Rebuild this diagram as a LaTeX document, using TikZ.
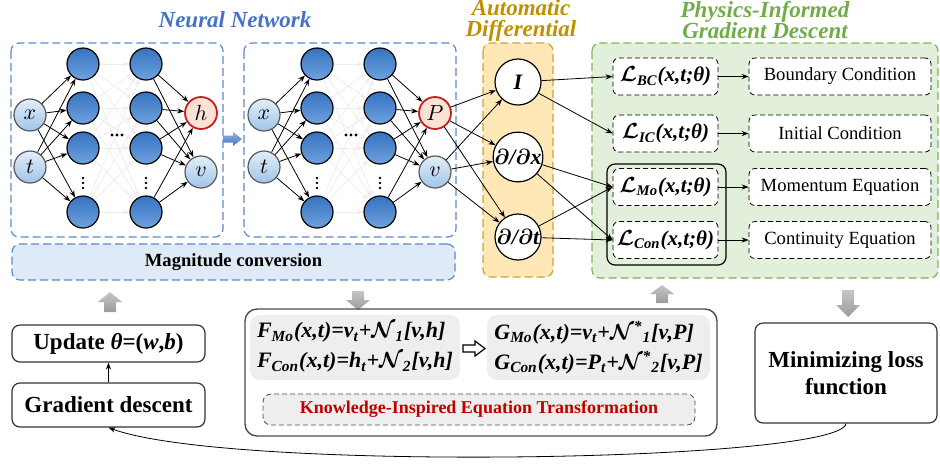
\documentclass[tikz,border=0pt]{standalone}
\usepackage{fontspec}
\setmainfont{Liberation Serif}
\usepackage{amsmath,amssymb,bm}
\usepackage{xcolor}
\usetikzlibrary{shapes,arrows,positioning,calc,arrows.meta}

\definecolor{nnblue}{RGB}{68,114,196}
\definecolor{magfill}{RGB}{222,235,247}
\definecolor{hidtop}{RGB}{55,115,192}
\definecolor{hidbot}{RGB}{110,162,222}
\definecolor{inlight}{RGB}{226,238,249}
\definecolor{inblue}{RGB}{160,196,232}
\definecolor{outred}{RGB}{200,30,30}
\definecolor{outfill}{RGB}{251,226,213}
\definecolor{adgold}{RGB}{191,144,0}
\definecolor{adfill}{RGB}{255,231,182}
\definecolor{pgreen}{RGB}{112,173,71}
\definecolor{pfill}{RGB}{226,239,218}
\definecolor{eqfill}{RGB}{238,238,238}
\definecolor{ktred}{RGB}{192,0,0}

\begin{document}
\begin{tikzpicture}[x=0.5pt, y=-0.5pt, >={Stealth[length=3.5pt,width=2.6pt]},
    font=\fontsize{9}{11}\selectfont,
    neuron/.style={circle, minimum size=16pt, inner sep=0pt, draw=black, line width=0.6pt, font=\fontsize{11}{13}\selectfont},
    hidnode/.style={neuron, top color=hidtop, bottom color=hidbot},
    innode/.style={neuron, draw=gray!70!black, top color=inlight, bottom color=inblue},
    outnode/.style={neuron, draw=outred, line width=0.9pt, fill=outfill},
    fwd/.style={->, line width=0.4pt},
    faint/.style={->, line width=0.4pt, draw=gray!14},
    boxdash/.style={dash pattern=on 4pt off 2pt, line width=0.6pt, rounded corners=4pt},
    adnode/.style={circle, draw=black, fill=white, minimum size=23pt, inner sep=0pt, line width=0.6pt, font=\fontsize{11}{13}\selectfont\bfseries\itshape},
    lossbox/.style={draw=black, dash pattern=on 2.5pt off 1.5pt, rounded corners=3pt, fill=white, minimum width=52.5pt, minimum height=18.5pt, inner sep=1pt, font=\fontsize{10.5}{12}\selectfont\bfseries\itshape},
    condbox/.style={draw=black, dash pattern=on 2.5pt off 1.5pt, rounded corners=3pt, fill=white, minimum width=91pt, minimum height=18.5pt, font=\fontsize{9.3}{11}\selectfont},
    flowbox/.style={draw=black!80, rounded corners=4pt, line width=0.6pt, fill=white, font=\fontsize{11.5}{13.5}\selectfont\bfseries},
    titletext/.style={font=\fontsize{11.5}{10.5}\selectfont\bfseries\itshape, align=center},
    grayshade/.style={top color=gray!45, bottom color=gray!78},
    eqbox/.style={fill=eqfill, rounded corners=5pt, minimum height=32.5pt, align=left, inner sep=2pt, font=\fontsize{11}{15}\selectfont\bfseries\itshape}]

    \useasboundingbox (0,0) rectangle (940,463);

    % background panels
    \draw[boxdash, draw=nnblue!85] (11,43) rectangle (223,237);
    \draw[boxdash, draw=nnblue!85] (244,43) rectangle (456,237);
    \draw[boxdash, draw=adgold!80, fill=adfill] (483,43) rectangle (553,277);
    \draw[boxdash, draw=pgreen!90, fill=pfill] (592,43) rectangle (938,278);
    \node[boxdash, draw=nnblue!85, fill=magfill, minimum width=221.5pt, minimum height=18pt, font=\fontsize{9.3}{11}\selectfont\bfseries] (mag) at (233.5,262) {Magnitude conversion};

    \node[titletext, text=nnblue] (nntitle) at (235,20) {Neural Network};
    \node[titletext, text=adgold] (adtitle) at (521,20) {Automatic\\Differential};
    \node[titletext, text=pgreen] (pititle) at (765,20) {Physics-Informed\\Gradient Descent};

    % the two networks
    \foreach \k/\off/\o in {1/0/h, 2/234/P} {
        \node[innode] (x\k) at (30+\off,115) {$x$};
        \node[innode] (t\k) at (30+\off,167) {$t$};
        \foreach \r/\y in {1/64, 2/108, 3/148, 4/212} {
            \node[hidnode] (a\k\r) at (83+\off,\y) {};
            \node[hidnode] (b\k\r) at (146+\off,\y) {};
        }
        \node[outnode] (o\k) at (201+\off,113) {$\o$};
        \node[innode] (v\k) at (201+\off,172) {$v$};
        \foreach \r in {1,...,4} {
            \draw[fwd] (x\k) -- (a\k\r);
            \draw[fwd] (t\k) -- (a\k\r);
            \draw[fwd] (b\k\r) -- (o\k);
            \draw[fwd] (b\k\r) -- (v\k);
            \foreach \s in {1,...,4}
                \draw[faint] (a\k\r) -- (b\k\s);
        }
        % dots for the hidden layers
        \foreach \d in {-5,0,5} {
            \fill (117+\off+\d,135) circle (1.7);
            \fill (83+\off,183+\d) circle (1.4);
            \fill (146+\off,183+\d) circle (1.4);
        }
    }
    \shade[top color=nnblue!55, bottom color=nnblue] (223,135.5) -- (233,135.5) -- (233,132) -- (242,139) -- (233,146) -- (233,142.5) -- (223,142.5) -- cycle;

    % automatic differential
    \node[adnode] (id) at (518,82) {I};
    \node[adnode] (ddx) at (518,157) {$\bm{\partial}$/$\bm{\partial}$x};
    \node[adnode] (ddt) at (518,237) {$\bm{\partial}$/$\bm{\partial}$t};
    \foreach \s in {o2, v2}
        \foreach \d in {id, ddx, ddt}
            \draw[fwd] (\s) -- (\d);

    % losses
    \draw[line width=0.6pt, rounded corners=4pt] (607,164) rectangle (726,265);
    \node[lossbox] (lbc) at (665.5,76.5) {$\bm{\mathcal{L}}$\textsubscript{BC}(x,t;θ)};
    \node[lossbox] (lic) at (665.5,133.5) {$\bm{\mathcal{L}}$\textsubscript{IC}(x,t;θ)};
    \node[lossbox] (lmo) at (665.5,187) {$\bm{\mathcal{L}}$\textsubscript{Mo}(x,t;θ)};
    \node[lossbox] (lcon) at (665.5,240) {$\bm{\mathcal{L}}$\textsubscript{Con}(x,t;θ)};
    \node[condbox] (cbc) at (840,76.5) {Boundary Condition};
    \node[condbox] (cic) at (840,133.5) {Initial Condition};
    \node[condbox] (cmo) at (840,187) {Momentum Equation};
    \node[condbox] (ccon) at (840,240) {Continuity Equation};
    \draw[fwd] (id) -- (lbc.west);
    \draw[fwd] (id) -- (lic.west);
    \draw[fwd] (ddx) -- (lmo.west);
    \draw[fwd] (ddx) -- (lcon.west);
    \draw[fwd] (ddt) -- (lmo.west);
    \draw[fwd] (ddt) -- (lcon.west);
    \draw[fwd] (lbc) -- (cbc);
    \draw[fwd] (lic) -- (cic);
    \draw[fwd] (lmo) -- (cmo);
    \draw[fwd] (lcon) -- (ccon);

    % gray flow arrows
    \shade[grayshade] (104,312) -- (104,302) -- (98,302) -- (110,292) -- (122,302) -- (116,302) -- (116,312) -- cycle;
    \shade[grayshade] (352,291) -- (364,291) -- (364,300) -- (370,300) -- (358,310) -- (346,300) -- (352,300) -- cycle;
    \shade[grayshade] (656,303) -- (656,294) -- (650,294) -- (662,285) -- (674,294) -- (668,294) -- (668,303) -- cycle;
    \shade[grayshade] (842,290) -- (854,290) -- (854,305) -- (860,305) -- (848,317) -- (836,305) -- (842,305) -- cycle;

    % equation transformation
    \draw[draw=black!70, line width=0.7pt, rounded corners=6pt] (245,309) rectangle (717,436);
    \node[eqbox, minimum width=105pt] (feq) at (355,347.5)
        {F\textsubscript{Mo}(x,t)=v\textsubscript{t}+$\bm{\mathcal{N}}$\textsubscript{1}[v,h]\\
         F\textsubscript{Con}(x,t)=h\textsubscript{t}+$\bm{\mathcal{N}}$\textsubscript{2}[v,h]};
    \node[eqbox, minimum width=111.5pt] (geq) at (598.5,347.5)
        {G\textsubscript{Mo}(x,t)=v\textsubscript{t}+$\bm{\mathcal{N}}$\textsuperscript{*}\textsubscript{1}[v,P]\\
         G\textsubscript{Con}(x,t)=P\textsubscript{t}+$\bm{\mathcal{N}}$\textsuperscript{*}\textsubscript{2}[v,P]};
    \draw[fill=white, line width=0.6pt, line join=miter] (463,345) -- (475,345) -- (475,341) -- (485,348.5) -- (475,356) -- (475,352) -- (463,352) -- cycle;
    \node[draw=black!70, dash pattern=on 2.5pt off 1.5pt, fill=eqfill, rounded corners=4pt, minimum width=216pt, minimum height=15.5pt, text=ktred, font=\fontsize{9}{11}\selectfont\bfseries] (kiet) at (479,409.5) {Knowledge-Inspired Equation Transformation};

    % training loop
    \node[flowbox, minimum width=96.5pt, minimum height=18.5pt] (upd) at (108.5,343.5) {Update \textit{θ}=(\textit{w},\textit{b})};
    \node[flowbox, minimum width=96.5pt, minimum height=22pt] (gd) at (108.5,405) {Gradient descent};
    \node[flowbox, minimum width=91pt, minimum height=50pt, align=center] (minl) at (846,373) {Minimizing loss\\function};
    \draw[fwd] (gd) -- (upd);
    \draw[fwd] (minl.south) .. controls (840,462) and (230,472) .. (gd.south);
\end{tikzpicture}
\end{document}
